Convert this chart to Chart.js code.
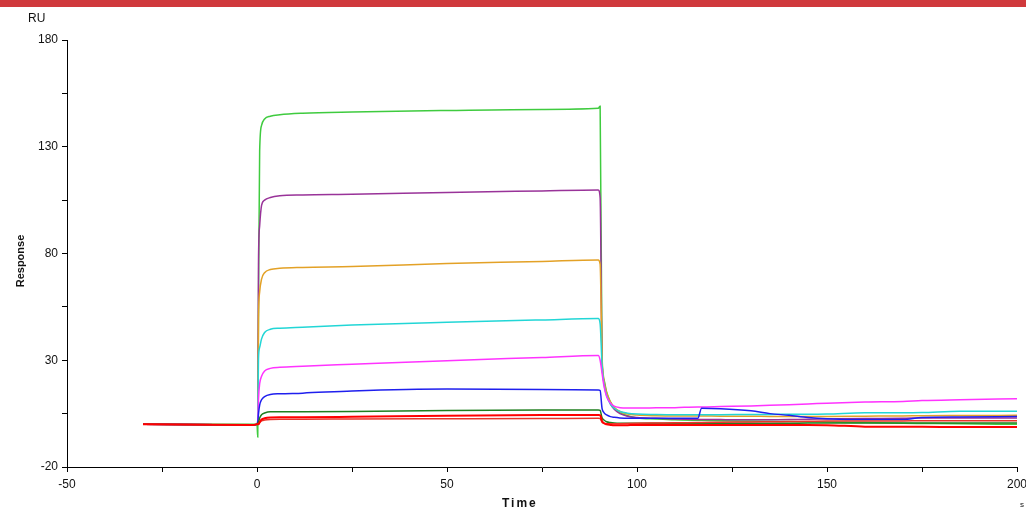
<!DOCTYPE html>
<html>
<head>
<meta charset="utf-8">
<script src="https://cdn.jsdelivr.net/npm/chart.js@4/dist/chart.umd.min.js"></script>
<style>
  html, body { margin: 0; padding: 0; background: #fff; }
  #wrap { position: relative; width: 1026px; height: 511px; overflow: hidden; font-family: "Liberation Sans", Arial, sans-serif; }
  #bar { position: absolute; left: 0; top: 0; width: 1026px; height: 7px; background: #d0393c; }
  #myChart { position: absolute; left: 0; top: 0; }
  .lbl { position: absolute; color: #111; white-space: nowrap; }
</style>
</head>
<body>
<div id="wrap">
  <canvas id="myChart" width="1026" height="511"></canvas>
  <div id="bar"></div>
  <div class="lbl" style="left:28px; top:11px; font-size:12px;">RU</div>
  <div class="lbl" style="left:-10px; top:255px; font-size:11px; font-weight:bold; transform:rotate(-90deg); width:60px; text-align:center;">Response</div>
  <div class="lbl" style="left:502px; top:496px; font-size:12px; font-weight:bold; letter-spacing:2px;">Time</div>
  <div class="lbl" style="left:1020px; top:500px; font-size:8px;">s</div>
</div>
<script>
// time points (s)
const times = [-30, -1, 0, 0.2, 0.4, 0.7, 1.2, 2, 3.5, 6, 12, 25, 50, 75, 89.8, 90.3,
  90.8, 91.3, 92, 93, 94, 95.5, 97.5, 100, 105, 110, 116, 117, 122, 130, 135, 140, 145, 150, 160, 170, 175, 185, 200];

// response (RU) per curve
const green = [0, 0, 0, -6, 60, 128, 140, 143, 144.3, 145, 145.7, 146.3, 147, 147.5, 148, 149,
  30, 21, 15, 10.5, 7.5, 5.5, 4, 3, 2.5, 2.1, 1.9, 1.9, 1.7, 1.5, 1.4, 1.3, 1.2, 1.1, 0.8, 0.5, 0.4, 0.2, 0];
const purple = [0, -0.3, 0, 2, 77, 93, 102.5, 105, 106.2, 107, 107.4, 107.7, 108.6, 109.3, 109.7, 106,
  30, 20, 14, 9.5, 7, 5, 3.8, 3.2, 2.8, 2.5, 2.3, 2.3, 2.2, 2.1, 2.1, 2.2, 2.4, 2.5, 2.7, 2.8, 3, 3, 3];
const orange = [0, -0.3, 0, 1, 50, 62, 68, 71, 72.5, 73.1, 73.5, 73.9, 75.3, 76.3, 77, 75,
  32, 21, 15, 10.5, 8, 6, 4.8, 4.3, 4, 3.9, 3.9, 3.9, 3.8, 3.8, 3.7, 3.7, 3.7, 3.7, 3.8, 3.9, 4, 4.1, 4.2];
const cyan = [0, -0.3, 0, 1, 31, 36, 40, 43, 44.5, 45, 45.5, 46.5, 47.8, 48.9, 49.5, 47,
  28, 19, 13.5, 9.5, 7.5, 6, 5.2, 4.8, 4.6, 4.5, 4.5, 4.5, 4.5, 4.6, 4.6, 4.7, 4.7, 4.8, 5.4, 5.4, 5.5, 6.1, 6.1];
const magenta = [0, -0.3, 0, 1, 12, 19, 22.5, 25, 26.2, 26.7, 27.2, 28.1, 29.8, 31.3, 32.2, 30,
  24, 18, 13, 10, 8.5, 7.8, 7.6, 7.6, 7.7, 7.8, 8.1, 8.1, 8.3, 8.6, 8.9, 9.2, 9.5, 9.9, 10.4, 10.7, 11.1, 11.5, 12];
const blue = [0, -0.3, 0, 1, 5, 9, 11.5, 13, 14, 14.3, 14.6, 15.6, 16.5, 16.3, 16.1, 15.8,
  7.5, 5.5, 4.4, 3.6, 3.3, 3, 2.8, 2.8, 2.8, 2.8, 2.8, 7.5, 7.3, 6.3, 5, 4.2, 3.2, 2.6, 2.2, 2.2, 3.2, 3.4, 3.6];
const darkGreen = [0, -0.3, 0, 0.5, 1, 3, 4.5, 5.3, 5.9, 5.9, 5.9, 6, 6.5, 6.7, 6.7, 6.5,
  3, 2, 1.2, 0.8, 0.6, 0.5, 0.5, 0.5, 0.5, 0.5, 0.5, 0.5, 0.5, 0.5, 0.5, 0.5, 0.6, 0.6, 0.6, 0.6, 0.6, 0.6, 0.6];
const red = [0, -0.3, 0, 0, 0, 1, 2.2, 2.8, 3.2, 3.3, 3.3, 3.5, 4, 4.3, 4.4, 4.3,
  1.5, 0.5, 0, -0.3, -0.5, -0.5, -0.4, -0.3, -0.3, -0.3, -0.3, -0.3, -0.3, -0.3, -0.3, -0.3, -0.3, -0.4, -1.1, -1.2, -1.2, -1.3, -1.3];
const red2 = [0, -0.3, 0, 0, 0, 0.8, 1.6, 2, 2.3, 2.4, 2.4, 2.5, 2.6, 2.7, 2.8, 2.7,
  1.0, 0.5, 0.3, 0.2, 0.2, 0.3, 0.4, 0.5, 0.6, 0.7, 0.8, 0.9, 1, 1.1, 1.2, 1.3, 1.4, 1.5, 1.6, 1.6, 1.7, 1.7, 1.7];

const xTicks = [-50, 0, 50, 100, 150, 200];
const yTicks = [-20, 30, 80, 130, 180];

const toPoints = (vals) => vals.map((v, i) => ({ x: times[i], y: v }));

// first dataset is drawn on top
const curves = [
    { values: red, color: '#ff0000', width: 2 },
    { values: red2, color: '#e8352a', width: 1.5 },
    { values: darkGreen, color: '#1f7f1f', width: 1.5 },
    { values: blue, color: '#1f1fee', width: 1.5 },
    { values: magenta, color: '#ff33ff', width: 1.5 },
    { values: cyan, color: '#22d6d6', width: 1.5 },
    { values: orange, color: '#e3a126', width: 1.5 },
    { values: purple, color: '#993399', width: 1.5 },
    { values: green, color: '#3fcb3f', width: 1.5 }
];

const ctx = document.getElementById('myChart').getContext('2d');

new Chart(ctx, {
    type: 'line',
    data: {
        datasets: curves.map(c => ({
            data: toPoints(c.values),
            borderColor: c.color,
            borderWidth: c.width,
            pointRadius: 0,
            fill: false,
            cubicInterpolationMode: 'monotone'
        }))
    },
    options: {
        responsive: false,
        animation: false,
        events: [],
        plugins: {
            legend: { display: false },
            tooltip: { enabled: false }
        },
        layout: {
            padding: { left: 0, top: 40, right: 9, bottom: 0 }
        },
        scales: {
            x: {
                type: 'linear',
                min: -50,
                max: 200,
                afterFit: s => { s.height = 44; s.paddingLeft = 0; s.paddingRight = 0; },
                afterBuildTicks: s => { s.ticks = [-50, -25, 0, 25, 50, 75, 100, 125, 150, 175, 200].map(v => ({ value: v })); },
                grid: { drawOnChartArea: false, drawTicks: true, tickLength: 5, color: '#000' },
                border: { color: '#000', width: 1 },
                ticks: {
                    maxRotation: 0,
                    autoSkip: false,
                    padding: 5,
                    color: '#111',
                    font: { family: 'Liberation Sans', size: 12 },
                    callback: v => xTicks.includes(v) ? String(v) : ''
                }
            },
            y: {
                type: 'linear',
                min: -20,
                max: 180,
                afterFit: s => { s.width = 67; s.paddingTop = 0; s.paddingBottom = 0; },
                afterBuildTicks: s => { s.ticks = [-20, 5, 30, 55, 80, 105, 130, 155, 180].map(v => ({ value: v })); },
                grid: { drawOnChartArea: false, drawTicks: true, tickLength: 5, color: '#000' },
                border: { color: '#000', width: 1 },
                ticks: {
                    autoSkip: false,
                    padding: 4,
                    color: '#111',
                    font: { family: 'Liberation Sans', size: 12 },
                    callback: v => yTicks.includes(v) ? String(v) : ''
                }
            }
        }
    }
});
</script>
</body>
</html>
